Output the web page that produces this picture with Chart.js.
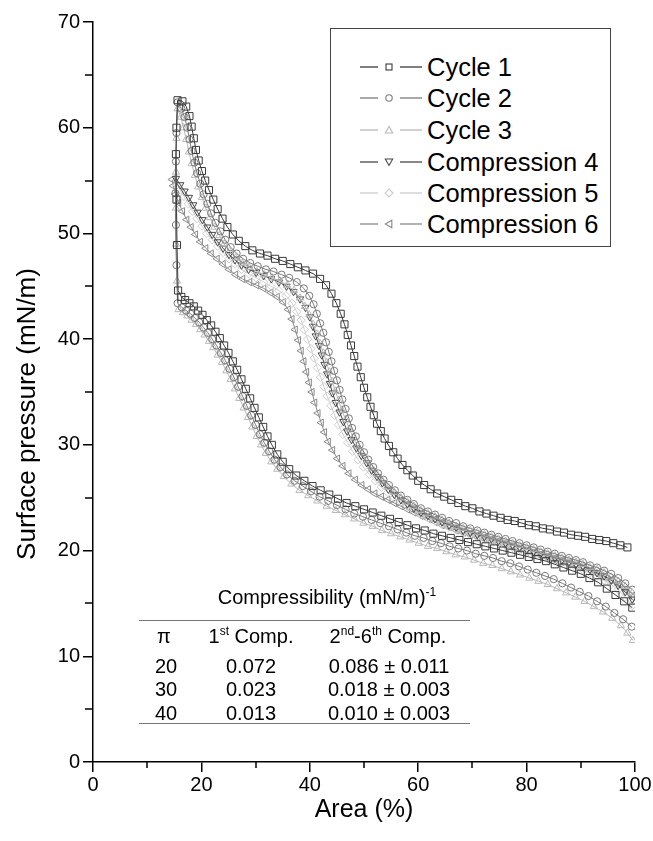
<!DOCTYPE html>
<html><head><meta charset="utf-8">
<script src="https://cdn.jsdelivr.net/npm/chart.js@4.4.1/dist/chart.umd.min.js"></script>
<style>
html,body{margin:0;padding:0;background:#fff;}
#wrap{position:relative;width:653px;height:841px;font-family:"Liberation Sans",Arial,Helvetica,sans-serif;color:#000;overflow:hidden;}
#c{position:absolute;left:0;top:0;}
.legbox{position:absolute;left:330px;top:28px;width:281px;height:219px;box-sizing:border-box;border:1.5px solid #444;background:#fff;}
.legsym{position:absolute;left:358px;width:66px;height:16px;}
.legtxt{position:absolute;left:427px;height:30px;line-height:30px;font-size:25.5px;white-space:nowrap;}
.t{position:absolute;transform:translate(-50%,-50%);white-space:nowrap;font-size:20px;line-height:20px;}
.t sup{font-size:12px;line-height:0;vertical-align:8px;}
.hl{position:absolute;left:139px;width:331px;height:0;border-top:1.5px solid #777;}
</style>
</head><body>
<div id="wrap">
<canvas id="c" width="653" height="841"></canvas>
<div class="legbox"></div>
<div id="legend"></div>
<div class="t" style="left:327px;top:597px;">Compressibility (mN/m)<sup>-1</sup></div>
<div class="hl" style="top:620px;"></div>
<div class="t" style="left:164px;top:636px;">π</div>
<div class="t" style="left:251px;top:636px;">1<sup>st</sup> Comp.</div>
<div class="t" style="left:388px;top:636px;">2<sup>nd</sup>-6<sup>th</sup> Comp.</div>
<div id="rows"></div>
<div class="hl" style="top:723px;"></div>
</div>
<script>
// ---------- data (Area %, Surface pressure mN/m) ----------
const cycle1Comp = [[98.6,20.3],[97.3,20.5],[96,20.7],[94.7,20.9],[93.4,21.0],[92.1,21.1],[90.8,21.3],[89.5,21.4],[88.2,21.5],[86.9,21.7],[85.6,21.8],[84.3,22.0],[83,22.1],[81.7,22.3],[80.4,22.4],[79.1,22.6],[77.8,22.8],[76.5,22.9],[75.2,23.1],[73.9,23.3],[72.6,23.5],[71.3,23.7],[70,24.0],[68.7,24.2],[67.4,24.5],[66.1,24.8],[64.8,25.1],[63.5,25.4],[62.3,25.8],[61.1,26.2],[60,26.6],[59,27.1],[58,27.6],[57.1,28.1],[56.2,28.7],[55.4,29.3],[54.6,29.9],[53.8,30.6],[53.1,31.3],[52.4,32.0],[51.8,32.8],[51.2,33.6],[50.6,34.5],[50.0,35.4],[49.4,36.4],[48.8,37.4],[48.2,38.4],[47.6,39.4],[47.0,40.4],[46.4,41.4],[45.7,42.4],[44.9,43.4],[44.0,44.3],[43.0,45.1],[41.9,45.7],[40.6,46.2],[39.2,46.5],[37.8,46.8],[36.4,47.1],[35.0,47.4],[33.6,47.6],[32.2,47.9],[30.8,48.1],[29.4,48.4],[28.1,48.8],[26.9,49.3],[25.8,49.9],[24.8,50.6],[23.9,51.4],[23.0,52.3],[22.2,53.2],[21.4,54.1],[20.7,55.0],[20.1,55.9],[19.5,56.9],[19.0,57.9],[18.6,59.0],[18.2,60.1],[17.8,61.1],[17.2,62.0],[16.5,62.5],[15.6,62.6]];
const cycle1Exp = [[15.4,60.0],[15.3,57.5],[15.4,53.2],[15.5,48.9],[15.7,44.6],[16.3,44.0],[17.0,43.7],[17.8,43.4],[18.6,43.1],[19.4,42.7],[20.2,42.3],[21.0,41.8],[21.8,41.3],[22.6,40.7],[23.4,40.1],[24.2,39.4],[25.0,38.7],[25.8,37.9],[26.6,37.1],[27.4,36.2],[28.2,35.3],[29.0,34.4],[29.8,33.5],[30.6,32.6],[31.4,31.7],[32.2,30.8],[33.0,30.0],[34.0,29.1],[35.0,28.4],[36.2,27.7],[37.5,27.1],[39.0,26.6],[40.5,26.1],[42.0,25.7],[43.6,25.3],[45.2,24.9],[46.8,24.5],[48.4,24.2],[50.0,23.9],[51.6,23.6],[53.2,23.3],[54.8,23.0],[56.4,22.7],[58.0,22.4],[59.6,22.1],[61.2,21.9],[62.8,21.6],[64.4,21.4],[66.0,21.2],[67.6,21.0],[69.2,20.8],[70.8,20.6],[72.4,20.4],[74.0,20.2],[75.6,20.0],[77.2,19.8],[78.8,19.6],[80.4,19.4],[82.0,19.2],[83.6,19.0],[85.2,18.7],[86.8,18.4],[88.4,18.1],[90.0,17.8],[91.6,17.4],[93.2,17.0],[94.8,16.4],[96.4,15.8],[98.0,15.2],[99.5,14.6]];
const cycle2Comp = [[99.5,16.3],[98.2,16.9],[96.9,17.4],[95.6,17.8],[94.3,18.1],[93.0,18.4],[91.7,18.6],[90.4,18.9],[89.1,19.1],[87.8,19.3],[86.5,19.5],[85.2,19.7],[83.9,19.9],[82.6,20.1],[81.3,20.3],[80.0,20.5],[78.7,20.7],[77.4,20.9],[76.1,21.1],[74.8,21.3],[73.5,21.5],[72.2,21.7],[70.9,21.9],[69.6,22.1],[68.3,22.3],[67.0,22.6],[65.7,22.8],[64.4,23.1],[63.1,23.4],[61.8,23.7],[60.5,24.0],[59.2,24.4],[58.0,24.8],[56.8,25.2],[55.7,25.7],[54.6,26.2],[53.6,26.7],[52.6,27.3],[51.7,27.9],[50.8,28.6],[50.0,29.3],[49.2,30.0],[48.5,30.8],[47.8,31.6],[47.2,32.5],[46.6,33.4],[46.0,34.3],[45.5,35.2],[45.0,36.1],[44.5,37.0],[44.0,37.9],[43.5,38.8],[43.0,39.7],[42.5,40.6],[41.9,41.5],[41.3,42.4],[40.7,43.3],[39.9,44.1],[38.9,44.8],[37.6,45.4],[36.2,45.8],[34.8,46.1],[33.3,46.4],[31.9,46.6],[30.4,46.9],[29.0,47.2],[27.7,47.6],[26.5,48.1],[25.4,48.7],[24.4,49.4],[23.5,50.2],[22.6,51.0],[21.8,51.9],[21.1,52.8],[20.4,53.7],[19.8,54.7],[19.2,55.7],[18.7,56.7],[18.2,57.8],[17.8,58.9],[17.4,60.0],[16.9,61.0],[16.3,61.8],[15.6,62.4]];
const cycle2Exp = [[15.4,59.5],[15.3,56.8],[15.2,53.8],[15.3,50.8],[15.4,47.0],[15.6,43.4],[16.4,43.0],[17.2,42.7],[18.0,42.4],[18.8,42.0],[19.6,41.6],[20.4,41.1],[21.2,40.6],[22.0,40.0],[22.8,39.4],[23.6,38.7],[24.4,38.0],[25.2,37.2],[26.0,36.4],[26.8,35.5],[27.6,34.6],[28.4,33.7],[29.2,32.8],[30.0,31.9],[30.8,31.0],[31.6,30.2],[32.5,29.4],[33.5,28.6],[34.6,27.9],[35.8,27.2],[37.2,26.6],[38.7,26.1],[40.2,25.6],[41.8,25.1],[43.4,24.7],[45.0,24.3],[46.6,23.9],[48.2,23.5],[49.8,23.2],[51.4,22.9],[53.0,22.6],[54.6,22.3],[56.2,22.0],[57.8,21.7],[59.4,21.4],[61.0,21.2],[62.6,20.9],[64.2,20.7],[65.8,20.4],[67.4,20.2],[69.0,20.0],[70.6,19.7],[72.2,19.5],[73.8,19.3],[75.4,19.0],[77.0,18.8],[78.6,18.5],[80.2,18.2],[81.8,17.9],[83.4,17.6],[85.0,17.3],[86.6,16.9],[88.2,16.5],[89.8,16.1],[91.4,15.7],[93.0,15.2],[94.6,14.7],[96.2,14.1],[97.8,13.5],[99.4,12.8]];
const cycle3Comp = [[99.5,16.0],[98.2,16.6],[96.9,17.1],[95.6,17.5],[94.3,17.9],[93.0,18.2],[91.7,18.4],[90.4,18.7],[89.1,18.9],[87.8,19.1],[86.5,19.3],[85.2,19.5],[83.9,19.7],[82.6,19.9],[81.3,20.1],[80.0,20.3],[78.7,20.5],[77.4,20.7],[76.1,20.9],[74.8,21.1],[73.5,21.3],[72.2,21.5],[70.9,21.7],[69.6,21.9],[68.3,22.1],[67.0,22.3],[65.7,22.6],[64.4,22.9],[63.1,23.2],[61.8,23.5],[60.5,23.8],[59.2,24.2],[58.0,24.6],[56.8,25.0],[55.6,25.5],[54.5,26.0],[53.4,26.6],[52.4,27.2],[51.4,27.8],[50.5,28.5],[49.6,29.2],[48.8,29.9],[48.0,30.7],[47.3,31.5],[46.6,32.4],[45.9,33.3],[45.3,34.2],[44.7,35.1],[44.1,36.0],[43.6,36.9],[43.1,37.8],[42.5,38.7],[41.9,39.6],[41.3,40.5],[40.6,41.4],[39.9,42.3],[39.1,43.1],[38.2,43.9],[37.1,44.6],[35.8,45.1],[34.4,45.5],[33.0,45.8],[31.6,46.1],[30.2,46.4],[28.8,46.8],[27.5,47.2],[26.3,47.7],[25.2,48.3],[24.2,49.0],[23.3,49.8],[22.4,50.6],[21.6,51.5],[20.8,52.4],[20.1,53.4],[19.4,54.4],[18.8,55.5],[18.2,56.6],[17.7,57.7],[17.2,58.9],[16.7,60.0],[16.2,61.0],[15.6,61.8]];
const cycle3Exp = [[15.4,59.0],[15.3,55.8],[15.3,52.4],[15.3,49.0],[15.5,45.5],[15.8,42.8],[16.6,42.5],[17.4,42.2],[18.2,41.8],[19.0,41.4],[19.8,40.9],[20.6,40.4],[21.4,39.8],[22.2,39.2],[23.0,38.5],[23.8,37.8],[24.6,37.0],[25.4,36.2],[26.2,35.3],[27.0,34.4],[27.8,33.5],[28.6,32.6],[29.4,31.7],[30.2,30.8],[31.0,30.0],[31.9,29.2],[32.9,28.4],[34.0,27.7],[35.2,27.0],[36.6,26.3],[38.1,25.7],[39.7,25.2],[41.4,24.7],[43.1,24.2],[44.8,23.8],[46.5,23.4],[48.2,23.0],[49.9,22.6],[51.6,22.3],[53.3,21.9],[55.0,21.6],[56.7,21.3],[58.4,21.0],[60.1,20.7],[61.8,20.4],[63.5,20.2],[65.2,19.9],[66.9,19.6],[68.6,19.4],[70.3,19.1],[72.0,18.8],[73.7,18.6],[75.4,18.3],[77.1,18.0],[78.8,17.7],[80.5,17.4],[82.2,17.1],[83.9,16.8],[85.6,16.4],[87.3,16.0],[89.0,15.6],[90.7,15.2],[92.4,14.7],[94.1,14.2],[95.8,13.6],[97.4,12.9],[98.6,12.2],[99.6,11.5]];
const comp4 = [[99.5,15.4],[98.2,16.1],[96.9,16.7],[95.6,17.2],[94.3,17.6],[93.0,17.9],[91.7,18.2],[90.4,18.5],[89.1,18.7],[87.8,18.9],[86.5,19.1],[85.2,19.3],[83.9,19.5],[82.6,19.7],[81.3,19.9],[80.0,20.1],[78.7,20.3],[77.4,20.5],[76.1,20.7],[74.8,20.9],[73.5,21.1],[72.2,21.3],[70.9,21.5],[69.6,21.7],[68.3,21.9],[67.0,22.2],[65.7,22.4],[64.4,22.7],[63.1,23.0],[61.8,23.3],[60.5,23.6],[59.2,24.0],[58.0,24.4],[56.8,24.8],[55.6,25.3],[54.5,25.8],[53.4,26.4],[52.4,27.0],[51.4,27.6],[50.5,28.3],[49.5,29.0],[48.6,29.7],[47.7,30.5],[46.9,31.3],[46.2,32.2],[45.5,33.1],[44.8,34.0],[44.2,34.9],[43.7,35.8],[43.2,36.7],[42.7,37.6],[42.2,38.5],[41.7,39.4],[41.1,40.3],[40.6,41.2],[40.0,42.1],[39.2,43.0],[38.2,43.8],[37.0,44.5],[35.7,45.0],[34.3,45.4],[32.9,45.7],[31.5,46.0],[30.1,46.3],[28.7,46.6],[27.4,47.0],[26.2,47.5],[25.1,48.0],[24.0,48.6],[23.0,49.2],[22.0,49.9],[21.1,50.6],[20.2,51.3],[19.3,52.0],[18.5,52.7],[17.7,53.4],[16.9,54.0],[16.1,54.6],[15.3,55.2]];
const comp5 = [[99.5,14.8],[98.2,15.6],[96.9,16.3],[95.6,16.8],[94.3,17.2],[93.0,17.6],[91.7,17.9],[90.4,18.2],[89.1,18.4],[87.8,18.7],[86.5,18.9],[85.2,19.1],[83.9,19.3],[82.6,19.5],[81.3,19.7],[80.0,19.9],[78.7,20.1],[77.4,20.3],[76.1,20.5],[74.8,20.7],[73.5,20.9],[72.2,21.1],[70.9,21.3],[69.6,21.5],[68.3,21.7],[67.0,22.0],[65.7,22.2],[64.4,22.5],[63.1,22.8],[61.8,23.1],[60.5,23.4],[59.2,23.8],[58.0,24.2],[56.8,24.6],[55.6,25.0],[54.4,25.5],[53.2,26.0],[52.1,26.6],[51.0,27.2],[49.9,27.9],[48.9,28.6],[47.9,29.4],[47.0,30.2],[46.1,31.0],[45.3,31.9],[44.6,32.8],[43.9,33.7],[43.2,34.6],[42.6,35.5],[42.0,36.4],[41.4,37.3],[40.8,38.2],[40.2,39.1],[39.6,40.0],[39.0,40.9],[38.4,41.8],[37.6,42.6],[36.7,43.4],[35.6,44.1],[34.3,44.6],[32.9,45.0],[31.5,45.4],[30.1,45.8],[28.7,46.2],[27.4,46.6],[26.2,47.1],[25.1,47.6],[24.0,48.2],[23.0,48.8],[22.0,49.4],[21.0,50.0],[20.1,50.7],[19.2,51.4],[18.4,52.1],[17.6,52.8],[16.8,53.5],[16.1,54.1],[15.5,54.6]];
const comp6 = [[99.5,15.6],[98.2,16.3],[96.9,16.8],[95.6,17.2],[94.3,17.5],[93.0,17.8],[91.7,18.1],[90.4,18.3],[89.1,18.5],[87.8,18.7],[86.5,18.9],[85.2,19.1],[83.9,19.3],[82.6,19.5],[81.3,19.7],[80.0,19.9],[78.7,20.1],[77.4,20.3],[76.1,20.5],[74.8,20.7],[73.5,20.9],[72.2,21.1],[70.9,21.3],[69.6,21.5],[68.3,21.7],[67.0,21.9],[65.7,22.2],[64.4,22.4],[63.1,22.7],[61.8,23.0],[60.5,23.3],[59.2,23.6],[58.0,23.9],[56.8,24.2],[55.6,24.5],[54.4,24.8],[53.2,25.1],[52.0,25.4],[50.8,25.8],[49.6,26.2],[48.4,26.7],[47.2,27.3],[46.1,28.0],[45.1,28.7],[44.2,29.5],[43.4,30.3],[42.7,31.2],[42.1,32.1],[41.5,33.0],[40.9,34.0],[40.4,35.0],[39.9,35.9],[39.4,36.9],[38.9,37.9],[38.4,38.9],[37.9,39.9],[37.3,40.9],[36.7,41.9],[36.0,42.8],[35.1,43.5],[34.0,44.0],[32.8,44.4],[31.5,44.8],[30.2,45.1],[28.9,45.4],[27.6,45.7],[26.3,46.1],[25.1,46.6],[24.0,47.1],[22.9,47.6],[21.8,48.1],[20.8,48.6],[19.8,49.2],[18.9,49.9],[18.1,50.6],[17.3,51.3],[16.5,52.1],[15.8,52.9],[15.2,53.7],[14.8,54.5],[14.6,55.1]];

const seriesNames = ['Cycle 1','Cycle 2','Cycle 3','Compression 4','Compression 5','Compression 6'];
const xTicks = [0,20,40,60,80,100];
const xMinor = [10,30,50,70,90];
const yTicks = [0,10,20,30,40,50,60,70];
const yMinor = [5,15,25,35,45,55,65];
const tableRows = [['20','0.072','0.086 ± 0.011'],['30','0.023','0.018 ± 0.003'],['40','0.013','0.010 ± 0.003']];

// ---------- styles ----------
const FONT = '"Liberation Sans", Arial, Helvetica, sans-serif';
const styles = [
  {color:'#3a3a3a', shape:'rect', rot:0, r:5},
  {color:'#7a7a7a', shape:'circle', rot:0, r:3.6},
  {color:'#b8b8b8', shape:'triangle', rot:0, r:4.2},
  {color:'#484848', shape:'triangle', rot:180, r:4.2},
  {color:'#cdcdcd', shape:'rectRot', rot:0, r:4.2},
  {color:'#8a8a8a', shape:'triangle', rot:270, r:4.2}
];
const seriesData = [
  cycle1Comp.concat(cycle1Exp),
  cycle2Comp.concat(cycle2Exp),
  cycle3Comp.concat(cycle3Exp),
  comp4, comp5, comp6
];
const toXY = a => a.map(p => ({x:p[0], y:p[1]}));

const datasets = seriesNames.map((n,i) => ({
  label:n,
  data:toXY(seriesData[i]),
  showLine:true,
  borderColor:styles[i].color,
  borderWidth:1,
  pointStyle:styles[i].shape,
  rotation:styles[i].rot,
  pointRotation:styles[i].rot,
  pointRadius:styles[i].r,
  pointBorderWidth:1,
  pointBorderColor:styles[i].color,
  pointBackgroundColor:'rgba(255,255,255,0)',
  backgroundColor:'rgba(255,255,255,0)',
  tension:0,
  fill:false
}));

const minorTicks = {
  id:'minorTicks',
  afterDraw(chart){
    const {ctx, scales:{x,y}} = chart;
    ctx.save();
    ctx.strokeStyle = '#000'; ctx.lineWidth = 1.5;
    ctx.beginPath();
    xMinor.forEach(v => { const px = Math.round(x.getPixelForValue(v)); ctx.moveTo(px, y.bottom); ctx.lineTo(px, y.bottom + 6); });
    yMinor.forEach(v => { const py = Math.round(y.getPixelForValue(v)); ctx.moveTo(x.left, py); ctx.lineTo(x.left - 8, py); });
    ctx.stroke();
    ctx.restore();
  }
};
const Y_TITLE_SHIFT = 22;
const yTitleShift = {
  id:'yTitleShift',
  beforeDraw(chart){
    const s = chart.scales.y;
    if (s && !s._shiftPatched) {
      const orig = s.drawTitle;
      s.drawTitle = function(){
        const t = this.top, b = this.bottom;
        this.top += Y_TITLE_SHIFT; this.bottom += Y_TITLE_SHIFT;
        orig.apply(this, arguments);
        this.top = t; this.bottom = b;
      };
      s._shiftPatched = true;
    }
  }
};

new Chart(document.getElementById('c'), {
  type:'scatter',
  data:{datasets},
  options:{
    responsive:false,
    animation:false,
    layout:{padding:{top:22,right:18,left:0,bottom:0}},
    plugins:{legend:{display:false}, tooltip:{enabled:false}},
    scales:{
      x:{
        type:'linear', min:0, max:100,
        afterFit(s){ s.height = 79; },
        afterBuildTicks(s){ s.ticks = xTicks.map(v => ({value:v})); },
        ticks:{color:'#000', font:{family:FONT, size:20}, padding:1, maxRotation:0, autoSkip:false},
        grid:{drawOnChartArea:false, drawTicks:true, tickLength:10, color:'#000', lineWidth:1.5},
        border:{display:true, color:'#000', width:1.5},
        title:{display:true, text:'Area (%)', color:'#000', font:{family:FONT, size:25}, padding:{top:0, bottom:16}}
      },
      y:{
        type:'linear', min:0, max:70,
        afterFit(s){ s.width = 93; },
        afterBuildTicks(s){ s.ticks = yTicks.map(v => ({value:v})); },
        ticks:{color:'#000', font:{family:FONT, size:20}, padding:3, autoSkip:false},
        grid:{drawOnChartArea:false, drawTicks:true, tickLength:10, color:'#000', lineWidth:1.5},
        border:{display:true, color:'#000', width:1.5},
        title:{display:true, text:'Surface pressure (mN/m)', color:'#000', font:{family:FONT, size:26}, padding:{top:12, bottom:0}}
      }
    }
  },
  plugins:[minorTicks, yTitleShift]
});

// ---------- HTML legend ----------
const legRowsY = [67, 98, 130, 162, 193, 224];
const symbolSvg = (st) => {
  const c = st.color;
  let m;
  if (st.shape === 'rect') m = `<rect x="28" y="5" width="6" height="6" fill="none" stroke="${c}" stroke-width="1.1"/>`;
  else if (st.shape === 'circle') m = `<circle cx="31" cy="8" r="3.2" fill="none" stroke="${c}" stroke-width="1.1"/>`;
  else if (st.shape === 'rectRot') m = `<polygon points="31,4 35,8 31,12 27,8" fill="none" stroke="${c}" stroke-width="1.1"/>`;
  else if (st.rot === 180) m = `<polygon points="27.3,5 34.7,5 31,11.5" fill="none" stroke="${c}" stroke-width="1.1"/>`;
  else if (st.rot === 270) m = `<polygon points="27.3,8 33.8,4.3 33.8,11.7" fill="none" stroke="${c}" stroke-width="1.1"/>`;
  else m = `<polygon points="31,4.3 34.7,11 27.3,11" fill="none" stroke="${c}" stroke-width="1.1"/>`;
  return `<svg width="66" height="16" viewBox="0 0 66 16"><line x1="2" y1="8" x2="20" y2="8" stroke="${c}" stroke-width="1.3"/>${m}<line x1="42" y1="8" x2="64" y2="8" stroke="${c}" stroke-width="1.3"/></svg>`;
};
document.getElementById('legend').innerHTML = seriesNames.map((n,i) =>
  `<div class="legsym" style="top:${legRowsY[i]-8}px">${symbolSvg(styles[i])}</div>` +
  `<div class="legtxt" style="top:${legRowsY[i]-15}px">${n}</div>`).join('');

// ---------- HTML table rows ----------
const rowY = [666, 689, 713];
const colX = [166, 251, 389];
document.getElementById('rows').innerHTML = tableRows.map((r,i) =>
  r.map((c,j) => `<div class="t" style="left:${colX[j]}px;top:${rowY[i]}px;">${c}</div>`).join('')).join('');
</script>
</body></html>
